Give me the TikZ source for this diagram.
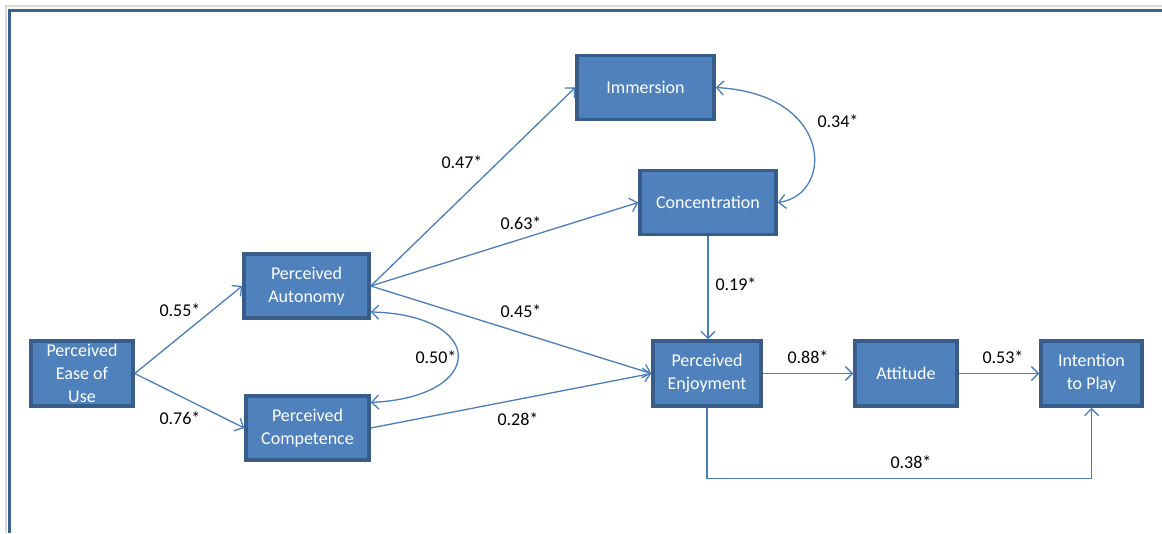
\documentclass[tikz,border=0pt]{standalone}
\usepackage{fontspec}
\setmainfont{Carlito}
\usepackage{tikz}
\usetikzlibrary{arrows.meta}
\usepackage{xcolor}
\definecolor{boxfill}{HTML}{4F81BD}
\definecolor{boxline}{HTML}{385D8A}
\definecolor{linkcol}{HTML}{4A7EBB}
\definecolor{framecol}{HTML}{3A6190}

\begin{document}
\begin{tikzpicture}[x=1pt,y=-1pt]
	 \tikzstyle{factor}=[rectangle,draw=boxline,fill=boxfill,line width=3.5pt,text=white,align=center,inner sep=0pt,font=\fontsize{18}{23}\selectfont]
	 \tikzstyle{coef}=[inner sep=0pt,font=\fontsize{18}{23}\selectfont]
	 \tikzstyle{link}=[draw,line width=1.3pt,linkcol,-{Straight Barb[length=7pt,width=14pt,line width=1.3pt]}]
	 \tikzstyle{covar}=[link,{Straight Barb[length=7pt,width=14pt,line width=1.3pt]}-{Straight Barb[length=7pt,width=14pt,line width=1.3pt]}]

	 \useasboundingbox[fill=white] (0,0) rectangle (1162,533);
	 % frame
	 \draw[black!15,line width=1.5pt] (6,533) -- (6,6) -- (1162,6);
	 \draw[framecol,line width=3.5pt] (9.5,533) -- (9.5,10.5) -- (1162,10.5);

	 \node[factor,minimum width=102pt,minimum height=65pt] (ease) at (82,373.5) 	{Perceived\\Ease of\\Use};
	 \node[factor,minimum width=125pt,minimum height=64pt] (auton) at (306.5,286) 	{Perceived\\Autonomy};
	 \node[factor,minimum width=123pt,minimum height=64pt] (compet) at (307.5,428) 	{Perceived\\Competence};
	 \node[factor,minimum width=137pt,minimum height=64pt] (immer) at (645.5,87.5) 	{Immersion};
	 \node[factor,minimum width=136pt,minimum height=64pt] (conc) at (708,202.5) 	{Concentration};
	 \node[factor,minimum width=108pt,minimum height=65pt] (enjoy) at (707,373.5) 	{Perceived\\Enjoyment};
	 \node[factor,minimum width=102pt,minimum height=65pt] (attit) at (906,373.5) 	{Attitude};
	 \node[factor,minimum width=101pt,minimum height=65pt] (intent) at (1091.5,373.5) 	{Intention\\to Play};

	 \draw[link] (ease.east) -- (auton.west);
	 \draw[link] (ease.east) -- (compet.west);
	 \draw[link] (auton.east) -- (immer.west);
	 \draw[link] (auton.east) -- (conc.west);
	 \draw[link] (auton.east) -- (enjoy.west);
	 \draw[link] (compet.east) -- (enjoy.west);
	 \draw[link] (conc.south) -- (conc.south |- enjoy.north);
	 \draw[link] (enjoy.east) -- (attit.west);
	 \draw[link] (attit.east) -- (intent.west);
	 \draw[link] (enjoy.south) -- ++(0,71) -| (intent.south);
	 \draw[covar] (auton.-22) .. controls (487,315) and (487,397) .. (compet.22);
	 \draw[covar] (immer.east) .. controls (834,94) and (834,195) .. (conc.east);

	 \node[coef] (c55) at (180,310) {0.55*};
	 \node[coef] (c76) at (180,418) {0.76*};
	 \node[coef] (c47) at (462,162) {0.47*};
	 \node[coef] (c63) at (521,223) {0.63*};
	 \node[coef] (c45) at (521,311) {0.45*};
	 \node[coef] (c50) at (436,357) {0.50*};
	 \node[coef] (c34) at (838,121) {0.34*};
	 \node[coef] (c19) at (736,284) {0.19*};
	 \node[coef] (c28) at (518,419) {0.28*};
	 \node[coef] (c88) at (808,357) {0.88*};
	 \node[coef] (c53) at (1003,357) {0.53*};
	 \node[coef] (c38) at (911,462) {0.38*};
 \end{tikzpicture}
\end{document}
